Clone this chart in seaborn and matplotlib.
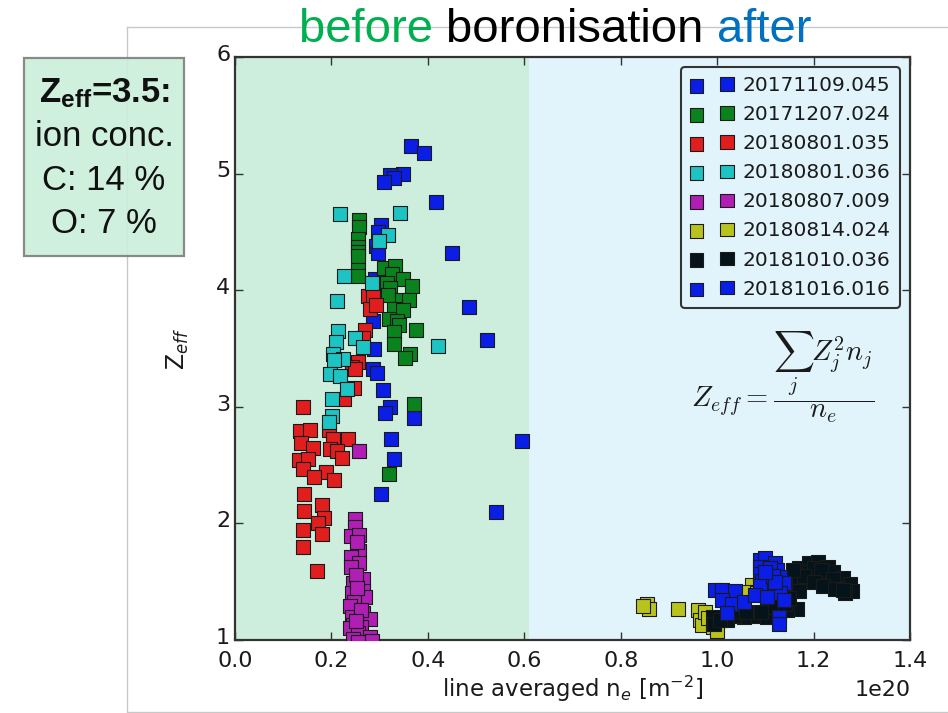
import numpy as np
import pandas as pd
import matplotlib
matplotlib.use("Agg")
import matplotlib.pyplot as plt
import matplotlib.transforms as mtransforms
import seaborn as sns
from matplotlib.patches import Rectangle
from matplotlib.lines import Line2D

# ---------------- data (x in units of 1e20 m^-2) ----------------
names = ["20171109.045", "20171207.024", "20180801.035", "20180801.036",
         "20180807.009", "20180814.024", "20181010.036", "20181016.016"]
colors = ["#0a1ee6", "#0a821e", "#e01e1e", "#1ec3c3",
          "#b01eb4", "#b9c31e", "#05141a", "#0a1ee6"]

x_20171109 = [0.366, 0.393, 0.348, 0.322, 0.330, 0.309, 0.417, 0.302, 0.297, 0.292,
              0.297, 0.450, 0.290, 0.486, 0.287, 0.523, 0.288, 0.287, 0.294, 0.306,
              0.322, 0.312, 0.372, 0.324, 0.595, 0.330, 0.302, 0.541]
y_20171109 = [5.24, 5.18, 5.00, 4.99, 4.96, 4.93, 4.76, 4.56, 4.50, 4.38,
              4.32, 4.32, 4.10, 3.86, 3.74, 3.57, 3.50, 3.32, 3.29, 3.14,
              3.00, 2.95, 2.90, 2.72, 2.71, 2.55, 2.25, 2.10]

x_20171207 = [0.258, 0.258, 0.256, 0.256, 0.255, 0.255, 0.255, 0.255, 0.310, 0.332,
              0.325, 0.348, 0.367, 0.315, 0.322, 0.318, 0.346, 0.360, 0.329, 0.349,
              0.320, 0.335, 0.340, 0.375, 0.330, 0.330, 0.363, 0.353, 0.372, 0.320]
y_20171207 = [4.60, 4.54, 4.44, 4.37, 4.33, 4.29, 4.17, 4.12, 4.19, 4.21,
              4.14, 4.10, 4.04, 4.06, 4.02, 3.96, 3.92, 3.92, 3.84, 3.83,
              3.75, 3.74, 3.70, 3.66, 3.64, 3.54, 3.45, 3.42, 3.02, 2.42]

x_20180801_035 = [0.275, 0.287, 0.280, 0.293, 0.270, 0.266, 0.256, 0.242, 0.249, 0.247,
                  0.227, 0.140, 0.135, 0.156, 0.136, 0.161, 0.194, 0.204, 0.234, 0.196,
                  0.212, 0.221, 0.133, 0.152, 0.140, 0.189, 0.164, 0.206, 0.143, 0.143,
                  0.180, 0.185, 0.173, 0.180, 0.140, 0.140, 0.170]
y_20180801_035 = [3.95, 3.95, 3.84, 3.87, 3.66, 3.59, 3.38, 3.34, 3.32, 3.16,
                  3.07, 3.00, 2.79, 2.80, 2.69, 2.65, 2.80, 2.72, 2.72, 2.64,
                  2.62, 2.56, 2.54, 2.55, 2.47, 2.44, 2.40, 2.37, 2.25, 2.11,
                  2.16, 2.05, 2.00, 1.91, 1.94, 1.80, 1.59]

x_20180801_036 = [0.218, 0.342, 0.318, 0.299, 0.227, 0.285, 0.212, 0.214, 0.209, 0.249,
                  0.266, 0.204, 0.223, 0.206, 0.421, 0.196, 0.218, 0.233, 0.201, 0.201,
                  0.194]
y_20180801_036 = [4.65, 4.66, 4.47, 4.42, 4.12, 4.06, 3.91, 3.65, 3.56, 3.59,
                  3.51, 3.45, 3.41, 3.40, 3.52, 3.28, 3.26, 3.15, 3.07, 2.92,
                  2.87]

x_20180807 = [0.258, 0.249, 0.249, 0.240, 0.258, 0.258, 0.240, 0.258, 0.240, 0.266,
              0.245, 0.265, 0.242, 0.270, 0.247, 0.239, 0.266, 0.242, 0.280, 0.245,
              0.261, 0.239, 0.256, 0.245, 0.280, 0.255, 0.285, 0.252, 0.250, 0.254,
              0.262, 0.250]
y_20180807 = [2.62, 2.04, 1.97, 1.89, 1.90, 1.76, 1.71, 1.66, 1.63, 1.52,
              1.49, 1.42, 1.40, 1.37, 1.33, 1.29, 1.23, 1.20, 1.18, 1.13,
              1.11, 1.10, 1.06, 1.01, 1.03, 0.98, 0.99, 1.84, 1.56, 1.45,
              1.26, 1.16]

x_20180814 = [0.854, 0.858, 0.847, 0.918, 0.961, 0.965, 0.968, 0.992, 0.999, 1.072,
              1.061, 1.082, 1.100, 1.103, 0.975, 0.982]
y_20180814 = [1.31, 1.27, 1.29, 1.27, 1.26, 1.17, 1.13, 1.11, 1.08, 1.47,
              1.41, 1.40, 1.40, 1.30, 1.24, 1.19]

x_20181010 = [1.170, 1.190, 1.210, 1.230, 1.240, 1.260, 1.275, 1.280, 1.265, 1.250,
              1.230, 1.210, 1.190, 1.200, 1.215, 1.240, 1.160, 1.170, 1.180, 1.200,
              1.220, 1.245, 1.260, 1.170, 1.165, 1.145, 1.125, 1.103, 1.075, 1.055,
              1.034, 1.020, 0.992, 0.994, 1.040, 1.060, 1.090, 1.120, 1.140, 1.005,
              1.150, 1.158]
y_20181010 = [1.62, 1.66, 1.67, 1.63, 1.58, 1.53, 1.48, 1.42, 1.40, 1.45,
              1.50, 1.55, 1.58, 1.62, 1.60, 1.52, 1.55, 1.50, 1.55, 1.50,
              1.46, 1.44, 1.43, 1.42, 1.27, 1.26, 1.22, 1.20, 1.21, 1.20,
              1.21, 1.17, 1.20, 1.14, 1.25, 1.24, 1.24, 1.28, 1.31, 1.17,
              1.36, 1.60]

x_20181016 = [1.089, 1.100, 1.120, 1.089, 1.089, 1.093, 1.103, 1.124, 1.131, 1.138,
              1.131, 1.138, 1.089, 0.996, 1.010, 1.037, 1.010, 1.030, 1.055, 1.079,
              1.020, 1.129, 1.129, 1.103, 1.110, 1.115, 1.120, 1.100]
y_20181016 = [1.69, 1.70, 1.66, 1.63, 1.57, 1.51, 1.47, 1.60, 1.54, 1.49,
              1.40, 1.34, 1.46, 1.43, 1.43, 1.42, 1.34, 1.31, 1.33, 1.39,
              1.23, 1.20, 1.14, 1.37, 1.62, 1.55, 1.50, 1.58]

series_x = [x_20171109, x_20171207, x_20180801_035, x_20180801_036,
            x_20180807, x_20180814, x_20181010, x_20181016]
series_y = [y_20171109, y_20171207, y_20180801_035, y_20180801_036,
            y_20180807, y_20180814, y_20181010, y_20181016]

frames = []
for n, xs, ys in zip(names, series_x, series_y):
    frames.append(pd.DataFrame({"ne": np.array(xs) * 1e20, "zeff": ys, "shot": n}))
df = pd.concat(frames, ignore_index=True)

# ---------------- style ----------------
sns.set_theme(style="ticks")
plt.rcParams["font.family"] = ["DejaVu Sans"]
plt.rcParams["mathtext.fontset"] = "custom"
plt.rcParams["mathtext.rm"] = "Liberation Sans"
plt.rcParams["mathtext.bf"] = "Liberation Sans:bold"
plt.rcParams["mathtext.it"] = "Liberation Sans:italic"

W, H = 948, 713
fig = plt.figure(figsize=(W / 100, H / 100), dpi=100)
fig.patch.set_facecolor("white")

def fx(px):
    return px / W

def fy(py):
    return 1 - py / H

ax = fig.add_axes([fx(235), fy(640), fx(910) - fx(235), fy(57) - fy(640)])
ax.set_facecolor("white")

ax.axvspan(0, 0.61e20, color="#cdeedc", zorder=0, lw=0)
ax.axvspan(0.61e20, 1.4e20, color="#e2f4fb", zorder=0, lw=0)

for n, c in zip(names, colors):
    sub = df[df["shot"] == n]
    sns.scatterplot(data=sub, x="ne", y="zeff", color=c, marker="s", s=95,
                    edgecolor="#1a1a1a", linewidth=0.8, label=n, ax=ax, zorder=3)

ax.set_xlim(0, 1.4e20)
ax.set_ylim(1, 6)
ax.set_xticks(np.arange(0, 1.41e20, 0.2e20))
ax.set_yticks([1, 2, 3, 4, 5, 6])

for sp in ax.spines.values():
    sp.set_color("#333333")
    sp.set_linewidth(1.6)
ax.tick_params(direction="in", top=True, right=True, length=6, width=1,
               color="#333333", labelsize=16, labelcolor="#1a1a1a")
ax.tick_params(axis="x", pad=8)
ax.xaxis.get_offset_text().set_visible(False)

# nudge y tick labels slightly upward (as in the reference)
shift = mtransforms.ScaledTranslation(0, 3 / 72, fig.dpi_scale_trans)
for lab in ax.get_yticklabels():
    lab.set_transform(lab.get_transform() + shift)

ax.set_xlabel(r"line averaged n$_e$ [m$^{-2}$]", fontsize=16.5, color="#1a1a1a",
              math_fontfamily="dejavusans", labelpad=2)
ax.set_ylabel(r"Z$_{eff}$", fontsize=17, color="#1a1a1a",
              math_fontfamily="dejavusans", labelpad=18)

fig.text(fx(911), fy(690), "1e20", ha="right", va="center", fontsize=16, color="#1a1a1a")

leg = ax.legend(scatterpoints=2, loc="upper right", fontsize=14.5, frameon=True,
                fancybox=True, edgecolor="#333333", facecolor="#e2f4fb", framealpha=1,
                borderaxespad=0.5, handlelength=2.1, handletextpad=0.5,
                labelspacing=0.5, borderpad=0.45)
leg.get_frame().set_linewidth(1.5)
for t in leg.get_texts():
    t.set_color("#1a1a1a")

# formula
fig.text(fx(783), fy(377), r"$Z_{eff} = \dfrac{\sum_j Z_j^2 n_j}{n_e}$",
         fontsize=20.5, ha="center", va="center", math_fontfamily="cm", color="#1a1a1a")

# slide frame lines
fig.add_artist(Line2D([fx(126.5), fx(126.5)], [fy(27), fy(712)], color="#c8c8c8", lw=1, zorder=0.5))
fig.add_artist(Line2D([fx(126.5), 1], [fy(27), fy(27)], color="#c8c8c8", lw=1, zorder=0.5))
fig.add_artist(Line2D([fx(126.5), 1], [fy(712), fy(712)], color="#c8c8c8", lw=1, zorder=0.5))

# left info box
fig.add_artist(Rectangle((fx(24), fy(256)), fx(184) - fx(24), fy(58) - fy(256),
                         facecolor="#ccefdc", edgecolor="#808080", lw=1.6, alpha=0.92,
                         zorder=2))
box_lines = [r"Z$_{\mathbf{eff}}$=3.5:", "ion conc.", "C: 14 %", "O: 7 %"]
box_base = [102, 146, 190, 233]
for i, (t, b) in enumerate(zip(box_lines, box_base)):
    fig.text(fx(104), fy(b), t, ha="center", va="baseline", fontsize=25,
             family="Liberation Sans", fontweight="bold" if i == 0 else "normal",
             color="#111111", zorder=3)

# title pieces
fig.canvas.draw()
renderer = fig.canvas.get_renderer()
title_parts = [("before ", "#00b050"), ("boronisation ", "#000000"), ("after", "#0070c0")]
xpos = 299
for txt, col in title_parts:
    t = fig.text(fx(xpos), fy(42), txt, ha="left", va="baseline", fontsize=34,
                 family="Liberation Sans", color=col, zorder=3)
    bb = t.get_window_extent(renderer)
    xpos += bb.width

fig.savefig("out.png", dpi=100, facecolor="white")
